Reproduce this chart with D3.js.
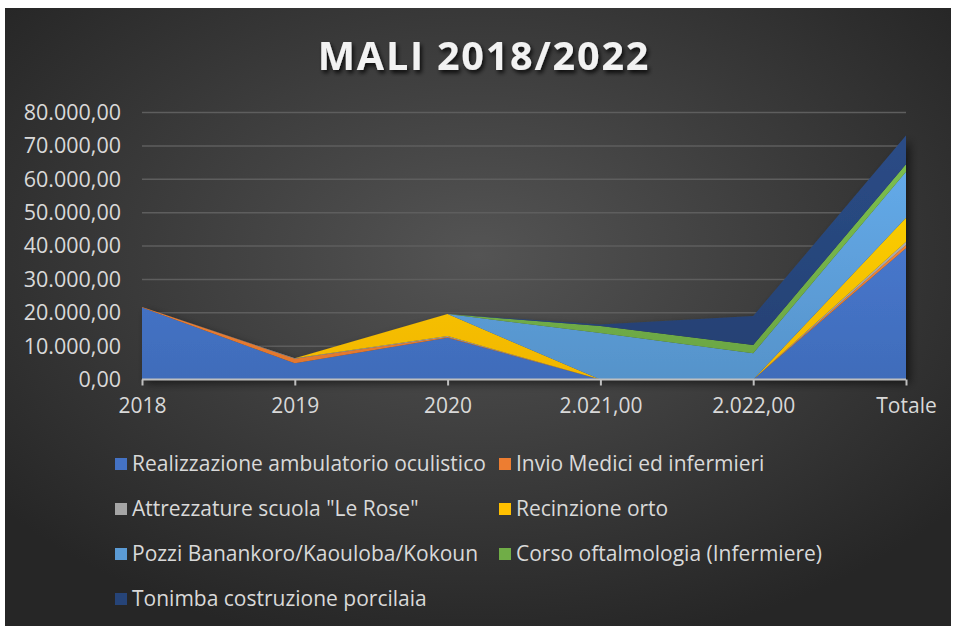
<!DOCTYPE html>
<html lang="it">
<head>
  <meta charset="UTF-8">
  <title>MALI 2018/2022</title>
  <script src="https://d3js.org/d3.v7.min.js"></script>
  <style>
    html, body { margin: 0; padding: 0; background: #fff; }
    svg { display: block; }
  </style>
</head>
<body>
  <svg width="954" height="629"></svg>

  <script>
    // Data
    var categories = ["2018", "2019", "2020", "2.021,00", "2.022,00", "Totale"];
    var seriesNames = [
      "Realizzazione ambulatorio oculistico",
      "Invio Medici ed infermieri",
      "Attrezzature scuola \"Le Rose\"",
      "Recinzione orto",
      "Pozzi Banankoro/Kaouloba/Kokoun",
      "Corso oftalmologia (Infermiere)",
      "Tonimba costruzione porcilaia"
    ];
    var ambulatorio = [21600, 4850, 12500, 0, 0, 39300];
    var medici      = [100, 1400, 200, 0, 0, 1000];
    var scuola      = [0, 100, 300, 0, 0, 1000];
    var orto        = [0, 0, 6600, 0, 0, 7150];
    var pozzi       = [0, 0, 0, 13900, 7850, 13800];
    var corso       = [0, 0, 0, 2100, 2500, 2250];
    var tonimba     = [0, 0, 0, 500, 8650, 8600];
    var yTicks = [0, 10000, 20000, 30000, 40000, 50000, 60000, 70000, 80000];
    var colors = ["#4472C4", "#ED7D31", "#A5A5A5", "#FFC000", "#5B9BD5", "#70AD47", "#264478"];

    var seriesValues = [ambulatorio, medici, scuola, orto, pozzi, corso, tonimba];

    // table for d3.stack
    var rows = categories.map(function(c, i) {
      var r = { cat: c };
      seriesNames.forEach(function(n, k) { r[n] = seriesValues[k][i]; });
      return r;
    });

    var svg = d3.select("svg");
    var defs = svg.append("defs");

    // background panel gradient
    var bg = defs.append("radialGradient").attr("id", "bg")
        .attr("cx", "50%").attr("cy", "40%").attr("r", "65%");
    bg.append("stop").attr("offset", "0%").attr("stop-color", "#545454");
    bg.append("stop").attr("offset", "100%").attr("stop-color", "#262626");

    var shadow = defs.append("filter").attr("id", "shadow")
        .attr("x", "-10%").attr("y", "-10%").attr("width", "130%").attr("height", "130%");
    shadow.append("feDropShadow").attr("dx", 4).attr("dy", 4).attr("stdDeviation", 4)
        .attr("flood-color", "#000").attr("flood-opacity", 0.55);

    var titleShadow = defs.append("filter").attr("id", "tshadow")
        .attr("x", "-10%").attr("y", "-30%").attr("width", "130%").attr("height", "170%");
    titleShadow.append("feDropShadow").attr("dx", 2).attr("dy", 3).attr("stdDeviation", 2)
        .attr("flood-color", "#000").attr("flood-opacity", 0.8);

    svg.append("rect")
        .attr("x", 5).attr("y", 8).attr("width", 946).attr("height", 618)
        .attr("fill", "url(#bg)");

    var margin = { left: 142, right: 906, top: 112.5, bottom: 379.5 };

    var x = d3.scalePoint().domain(categories).range([margin.left, margin.right]);
    var y = d3.scaleLinear().domain([0, 80000]).range([margin.bottom, margin.top]);

    var it = d3.formatLocale({ decimal: ",", thousands: ".", grouping: [3], currency: ["", ""] });
    var fmt = it.format(",.2f");

    // series gradients (lighter on top)
    colors.forEach(function(c, k) {
      var g = defs.append("linearGradient").attr("id", "grad" + k)
          .attr("gradientUnits", "userSpaceOnUse")
          .attr("x1", 0).attr("y1", margin.top).attr("x2", 0).attr("y2", margin.bottom);
      g.append("stop").attr("offset", "0%").attr("stop-color", d3.color(c).brighter(0.35));
      g.append("stop").attr("offset", "100%").attr("stop-color", d3.color(c).darker(0.15));
    });

    // title
    svg.append("text")
        .attr("x", 484).attr("y", 70)
        .attr("text-anchor", "middle")
        .attr("font-family", "'Open Sans', sans-serif")
        .attr("font-weight", "bold")
        .attr("font-size", 39.5)
        .attr("letter-spacing", 1.8)
        .attr("fill", "#f2f2f2")
        .attr("filter", "url(#tshadow)")
        .text("MALI 2018/2022");

    // gridlines
    svg.append("g")
        .selectAll("line")
        .data(yTicks.slice(1))
        .enter().append("line")
        .attr("x1", margin.left).attr("x2", margin.right)
        .attr("y1", function(d) { return y(d); })
        .attr("y2", function(d) { return y(d); })
        .attr("stroke", "#5e5e5e")
        .attr("stroke-width", 1.5);

    // y axis labels
    var yAxis = svg.append("g")
        .attr("transform", "translate(" + (margin.left - 21) + ",0)")
        .call(d3.axisLeft(y).tickValues(yTicks).tickFormat(fmt).tickSize(0).tickPadding(0));
    yAxis.select(".domain").remove();
    yAxis.selectAll("text")
        .attr("fill", "#d9d9d9")
        .attr("font-family", "'Open Sans', sans-serif")
        .attr("font-size", 21.5);

    // stacked areas
    var stack = d3.stack().keys(seriesNames);
    var layers = stack(rows);

    var area = d3.area()
        .x(function(d) { return x(d.data.cat); })
        .y0(function(d) { return y(d[0]); })
        .y1(function(d) { return y(d[1]); });

    svg.append("g")
        .attr("filter", "url(#shadow)")
        .selectAll("path")
        .data(layers)
        .enter().append("path")
        .attr("d", area)
        .attr("fill", function(d, i) { return "url(#grad" + i + ")"; });

    // x axis
    var xAxis = svg.append("g")
        .attr("transform", "translate(0," + margin.bottom + ")")
        .call(d3.axisBottom(x).tickSize(6).tickPadding(13).tickSizeOuter(0));
    xAxis.select(".domain").attr("stroke", "#bfbfbf").attr("stroke-width", 2)
        .attr("d", "M" + margin.left + ",0H" + margin.right);
    xAxis.selectAll(".tick line").attr("stroke", "#bfbfbf").attr("stroke-width", 2);
    xAxis.selectAll("text")
        .attr("fill", "#d9d9d9")
        .attr("font-family", "'Open Sans', sans-serif")
        .attr("font-size", 21);

    // legend
    var legendCols = [115, 499];
    var legendRows = [464, 509, 554, 599];
    var legend = svg.append("g")
        .selectAll("g")
        .data(seriesNames)
        .enter().append("g")
        .attr("transform", function(d, i) {
          return "translate(" + legendCols[i % 2] + "," + legendRows[Math.floor(i / 2)] + ")";
        });
    legend.append("rect")
        .attr("x", 0).attr("y", -6).attr("width", 12).attr("height", 12)
        .attr("fill", function(d, i) { return colors[i]; });
    legend.append("text")
        .attr("x", 17).attr("y", 0).attr("dy", "0.35em")
        .attr("fill", "#d9d9d9")
        .attr("font-family", "'Open Sans', sans-serif")
        .attr("font-size", 21)
        .text(function(d) { return d; });
  </script>
</body>
</html>
